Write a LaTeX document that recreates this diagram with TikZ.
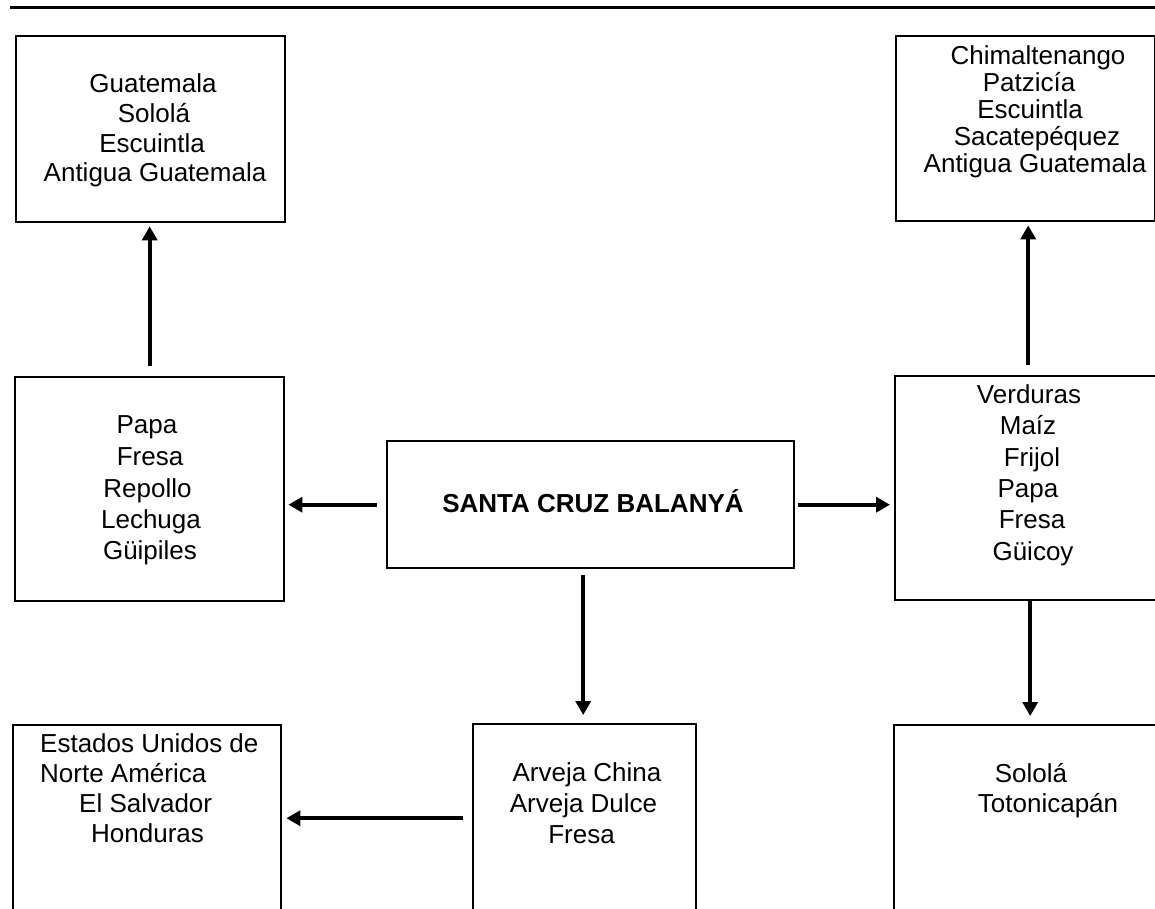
\documentclass[tikz,border=0pt]{standalone}
\usepackage{fontspec}
\setmainfont{Liberation Sans}
\usetikzlibrary{arrows.meta}
\newcommand\fsz{\fontsize{26}{30}\selectfont}
\tikzset{
  box/.style={draw, line width=2.4pt, inner sep=0pt, anchor=north west},
  lbl/.style={inner sep=0pt, anchor=base, font=\fsz},
  lblw/.style={inner sep=0pt, anchor=base west, font=\fsz},
  arr/.style={line width=3.6pt, -{Triangle[width=15pt,length=14pt]}},
}
\begin{document}
\begin{tikzpicture}[x=1pt,y=-1pt]
\useasboundingbox (0,0) rectangle (1155,909);
\clip (0,0) rectangle (1155,909);
% top rule
\coordinate (r1) at (10,8);
\coordinate (r2) at (1160,8);
\draw[line width=3pt] (r1) -- (r2);
% boxes
\node[box, minimum width=269pt, minimum height=186pt] (tl) at (15,35) {};
\node[box, minimum width=259pt, minimum height=185pt] (tr) at (895,35) {};
\node[box, minimum width=269pt, minimum height=224pt] (ml) at (14,376) {};
\node[box, minimum width=407pt, minimum height=127pt] (cen) at (386,440) {};
\node[box, minimum width=290pt, minimum height=224pt] (mr) at (894,375) {};
\node[box, minimum width=268pt, minimum height=230pt] (bl) at (12,724) {};
\node[box, minimum width=223pt, minimum height=230pt] (bc) at (472,723) {};
\node[box, minimum width=290pt, minimum height=230pt] (br) at (893,724) {};
% texts top-left
\node[lbl] (tla) at (153,93) {Guatemala};
\node[lbl] (tlb) at (154,123) {Sololá};
\node[lbl] (tlc) at (152,153) {Escuintla};
\node[lbl] (tld) at (155,182) {Antigua Guatemala};
% texts top-right
\node[lbl] (tra) at (1038,65) {Chimaltenango};
\node[lbl] (trb) at (1029,92) {Patzicía};
\node[lbl] (trc) at (1030,119) {Escuintla};
\node[lbl] (trd) at (1037,146) {Sacatepéquez};
\node[lbl] (tre) at (1035,173) {Antigua Guatemala};
% texts middle-left
\node[lbl] (mla) at (147,433) {Papa};
\node[lbl] (mlb) at (150,465) {Fresa};
\node[lbl] (mlc) at (147.5,497) {Repollo};
\node[lbl] (mld) at (151,528) {Lechuga};
\node[lbl] (mle) at (150,559) {Güipiles};
% texts middle-right
\node[lbl] (mra) at (1029,403) {Verduras};
\node[lbl] (mrb) at (1028,434) {Maíz};
\node[lbl] (mrc) at (1032,466) {Frijol};
\node[lbl] (mrd) at (1028,497) {Papa};
\node[lbl] (mre) at (1032,528) {Fresa};
\node[lbl] (mrf) at (1033,560) {Güicoy};
% centre
\node[lbl, font=\fsz\bfseries] (cena) at (593,512) {SANTA CRUZ BALANYÁ};
% bottom-left
\node[lblw] (bla) at (40,752) {Estados Unidos de};
\node[lblw] (blb) at (40,782) {Norte América};
\node[lblw] (blc) at (79,812) {El Salvador};
\node[lblw] (bld) at (91,842) {Honduras};
% bottom-centre
\node[lbl] (bca) at (587,781) {Arveja China};
\node[lbl] (bcb) at (583.5,812) {Arveja Dulce};
\node[lbl] (bcc) at (581.5,843) {Fresa};
% bottom-right
\node[lbl] (bra) at (1031,782) {Sololá};
\node[lbl] (brb) at (1048,812) {Totonicapán};
% arrows
\draw[arr, shorten <=10pt, shorten >=3pt] (ml.north) -- (ml.north |- tl.south);
\draw[arr, shorten <=10pt, shorten >=3pt] ([xshift=-12pt]mr.north) -- ([xshift=-12pt]mr.north |- tr.south);
\draw[arr, shorten <=9pt, shorten >=3pt] (cen.west) -- (cen.west -| ml.east);
\draw[arr, shorten <=3pt, shorten >=4pt] (cen.east) -- (cen.east -| mr.west);
\draw[arr, shorten <=6pt, shorten >=8pt] ([xshift=-1.5pt]bc.north |- cen.south) -- ([xshift=-1.5pt]bc.north);
\draw[arr, shorten >=8pt] ([xshift=-9pt]br.north |- mr.south) -- ([xshift=-9pt]br.north);
\draw[arr, shorten <=9pt, shorten >=4pt] ([yshift=21pt]bc.west) -- ([yshift=21pt]bc.west -| bl.east);
\end{tikzpicture}
\end{document}
